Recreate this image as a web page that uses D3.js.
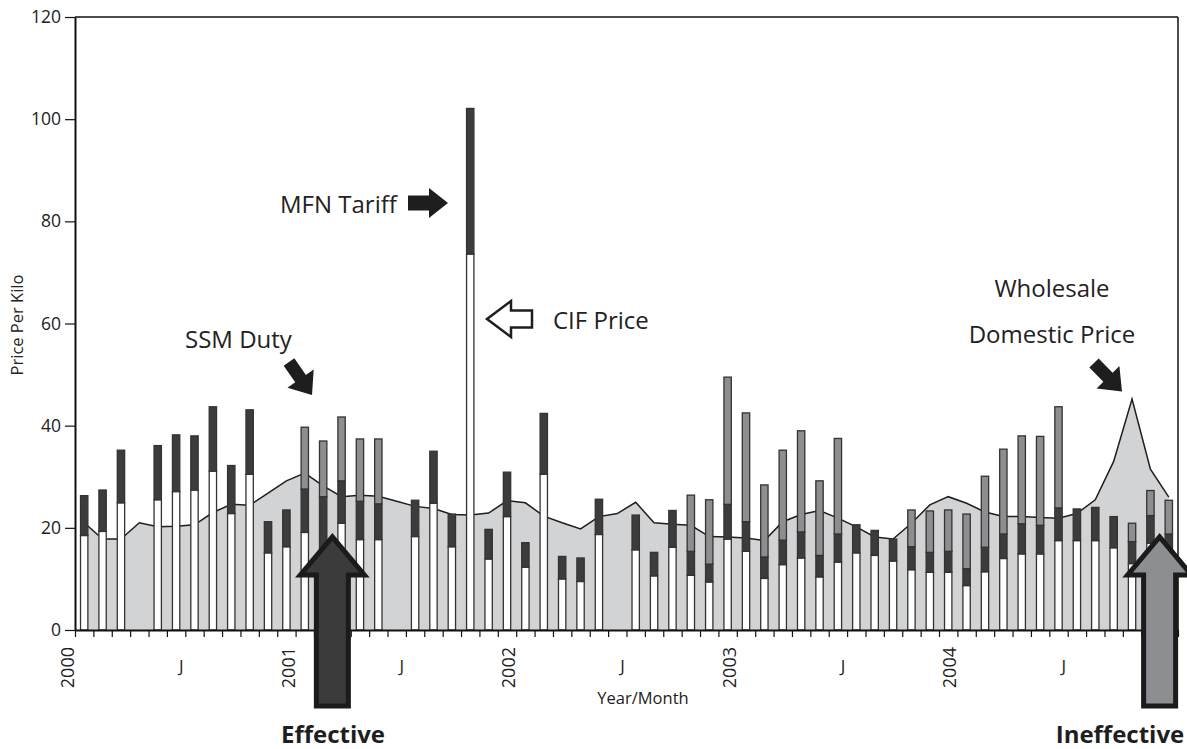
<!DOCTYPE html>
<html><head><meta charset="utf-8">
<script src="https://cdn.jsdelivr.net/npm/d3@7"></script>
<style>
html,body{margin:0;padding:0;background:#fff;}
svg{display:block;font-family:"Open Sans",sans-serif;}
</style></head>
<body><svg id="c" width="1187" height="749"></svg>
<script>
// Monthly data, Jan 2000 .. Dec 2004 (60 months); null = no import that month
const months = d3.range(60);
const cifPrice = [18.5,19.3,24.9,null,25.5,27.1,27.4,31.1,22.8,30.5,15.1,16.3,
  19.1,15.0,20.9,17.7,17.7,null,18.3,24.8,16.3,73.6,13.9,22.2,
  12.3,30.5,10.0,9.5,18.7,null,15.7,10.6,16.2,10.7,9.4,17.8,
  15.4,10.1,12.8,14.1,10.4,13.3,15.1,14.6,13.5,11.8,11.3,11.3,
  8.7,11.4,14.0,14.9,14.9,17.5,17.5,17.5,16.1,13.0,17.0,14.0];
const mfnTariff = [7.8,8.1,10.3,null,10.6,11.1,10.6,12.6,9.4,12.6,6.1,7.2,
  8.5,11.1,8.3,7.5,7.0,null,7.1,10.2,6.4,28.5,5.8,8.7,
  4.8,11.9,4.4,4.6,6.9,null,6.8,4.6,7.2,4.7,3.5,6.8,
  5.8,4.2,4.8,5.1,4.2,5.5,5.5,4.9,4.3,4.5,3.9,4.1,
  3.3,4.8,4.8,5.9,5.6,6.4,6.2,6.5,6.1,4.3,5.4,4.8];
const ssmDuty = [0,0,0,null,0,0,0,0,0,0,0,0,
  12.1,10.9,12.5,12.2,12.7,null,0,0,0,0,0,0,
  0,0,0,0,0,null,0,0,0,11.0,12.6,24.9,
  21.3,14.1,17.6,19.8,14.6,18.7,0,0,0,7.2,8.1,8.1,
  10.7,13.9,16.6,17.2,17.4,19.8,0,0,0,3.6,4.9,6.6];
const wholesale = [21.0,17.8,17.8,21.0,20.2,20.3,20.6,23.0,24.6,24.4,26.8,29.2,
  30.7,28.2,26.1,26.4,26.2,25.2,24.2,23.8,22.6,22.5,22.9,25.3,
  24.9,22.3,21.0,19.8,22.2,22.8,25.0,21.0,20.7,20.5,18.3,18.2,
  18.0,17.5,21.2,22.6,23.4,21.9,20.2,18.2,17.8,20.9,24.5,26.1,
  24.8,23.1,22.2,22.2,22.0,21.9,22.8,25.5,33.0,45.2,31.5,26.0];
const yTicks = [0,20,40,60,80,100,120];
const yearLabels = ["2000","2001","2002","2003","2004"];
const midYearLabel = "J";

const svg = d3.select("#c");
const L=75, R=1178, T=17, B=630;
const y = d3.scaleLinear().domain([0,120]).range([B,T]);
const xm = d3.scaleLinear().domain([0,60]).range([L,R]);
const xb = d3.scaleBand().domain(months).range([L,R]).paddingInner(0.6).paddingOuter(0.3);
const bw = xb.bandwidth();
const cx = i => xb(i)+bw/2;

// wholesale domestic price area
const area = d3.area().x((d,i)=>cx(i)).y0(y(0)).y1(d=>y(d));
const line = d3.line().x((d,i)=>cx(i)).y(d=>y(d));
svg.append("path").datum(wholesale).attr("d",area).attr("fill","#d2d3d5");
svg.append("path").datum(wholesale).attr("d",line).attr("fill","none").attr("stroke","#1e1e1e").attr("stroke-width",1.5);

// stacked bars
const rows = months.filter(i=>cifPrice[i]!=null).map(i=>({i,cif:cifPrice[i],mfn:mfnTariff[i],ssm:ssmDuty[i]}));
const gb = svg.append("g").attr("stroke","#333").attr("stroke-width",1.3);
rows.forEach(r=>{
  const segs=[[0,r.cif,"#ffffff"],[r.cif,r.cif+r.mfn,"#3c3c3c"]];
  if(r.ssm>0) segs.push([r.cif+r.mfn,r.cif+r.mfn+r.ssm,"#8e8e90"]);
  segs.forEach(s=>{
    gb.append("rect").attr("x",xb(r.i)).attr("width",bw)
      .attr("y",y(s[1])).attr("height",y(s[0])-y(s[1])).attr("fill",s[2]);
  });
});

// frame
svg.append("line").attr("x1",L).attr("x2",R).attr("y1",T).attr("y2",T).attr("stroke","#111").attr("stroke-width",1.5);
svg.append("line").attr("x1",R).attr("x2",R).attr("y1",T).attr("y2",B).attr("stroke","#111").attr("stroke-width",1.5);

// y axis
const ya = svg.append("g").attr("transform",`translate(${L},0)`)
  .call(d3.axisLeft(y).tickValues(yTicks).tickSize(10).tickPadding(4).tickSizeOuter(0));
ya.select(".domain").attr("stroke","#111").attr("stroke-width",2);
ya.selectAll(".tick line").attr("stroke","#111").attr("stroke-width",1.2);
ya.selectAll("text").attr("font-size",17.5).attr("font-family","Open Sans").attr("fill","#222");

// x axis
const xa = svg.append("g").attr("transform",`translate(0,${B})`)
  .call(d3.axisBottom(xm).tickValues(d3.range(0,61)).tickSize(7).tickFormat("").tickSizeOuter(0));
xa.select(".domain").attr("stroke","#111").attr("stroke-width",2);
xa.selectAll(".tick line").attr("stroke","#111").attr("stroke-width",1.2);

const xl = svg.append("g").attr("font-family","Open Sans").attr("fill","#222");
yearLabels.forEach((t,k)=>{
  xl.append("text").attr("transform",`translate(${xm(12*k)-1},647) rotate(-90)`)
    .attr("text-anchor","end").attr("font-size",18).text(t);
  xl.append("text").attr("x",xm(12*k+6)-4).attr("y",672).attr("text-anchor","middle")
    .attr("font-size",17).text(midYearLabel);
});
xl.append("text").attr("x",643).attr("y",704).attr("text-anchor","middle").attr("font-size",16.5).text("Year/Month");
xl.append("text").attr("transform","translate(23,325) rotate(-90)").attr("text-anchor","middle").attr("font-size",16.5).text("Price Per Kilo");

// annotation arrows
function arrow(x1,y1,x2,y2,sw,hw,hl){
  const dx=x2-x1, dy=y2-y1, len=Math.hypot(dx,dy), ux=dx/len, uy=dy/len, nx=-uy, ny=ux;
  const bx=x2-ux*hl, by=y2-uy*hl;
  const p=[[x1+nx*sw/2,y1+ny*sw/2],[bx+nx*sw/2,by+ny*sw/2],[bx+nx*hw/2,by+ny*hw/2],[x2,y2],
    [bx-nx*hw/2,by-ny*hw/2],[bx-nx*sw/2,by-ny*sw/2],[x1-nx*sw/2,y1-ny*sw/2]];
  return "M"+p.map(q=>q.join(",")).join("L")+"Z";
}
svg.append("path").attr("d",arrow(408,203,448,203,15,30,19)).attr("fill","#1e1e1e");
svg.append("path").attr("d",arrow(532,319,487,319,17,36,24)).attr("fill","#fff").attr("stroke","#1e1e1e").attr("stroke-width",2.5).attr("stroke-linejoin","miter");
svg.append("path").attr("d",arrow(289,362,312,395,13,32,20)).attr("fill","#1e1e1e");
svg.append("path").attr("d",arrow(1094,363,1122,391.5,13,32,20)).attr("fill","#1e1e1e");

const ta = svg.append("g").attr("font-family","Open Sans").attr("font-size",24).attr("fill","#222");
ta.append("text").attr("x",280).attr("y",213).text("MFN Tariff");
ta.append("text").attr("x",553).attr("y",329).text("CIF Price");
ta.append("text").attr("x",185).attr("y",348).text("SSM Duty");
ta.append("text").attr("x",1052).attr("y",297).attr("text-anchor","middle").text("Wholesale");
ta.append("text").attr("x",1052).attr("y",343).attr("text-anchor","middle").text("Domestic Price");

// big effectiveness arrows
const bigArrows = [{m:14,fill:"#3b3b3b",label:"Effective",lx:333},{m:59,fill:"#8d8e92",label:"Ineffective",lx:1120}];
bigArrows.forEach(a=>{
  svg.append("path").attr("d",arrow(xm(a.m),706,xm(a.m),537,32,64,38))
    .attr("fill",a.fill).attr("stroke","#1b1b1b").attr("stroke-width",5).attr("stroke-linejoin","miter");
  svg.append("text").attr("x",a.lx).attr("y",743).attr("text-anchor","middle")
    .attr("font-family","Open Sans").attr("font-weight","bold").attr("font-size",24).attr("fill","#1e1e1e").text(a.label);
});
</script></body></html>
